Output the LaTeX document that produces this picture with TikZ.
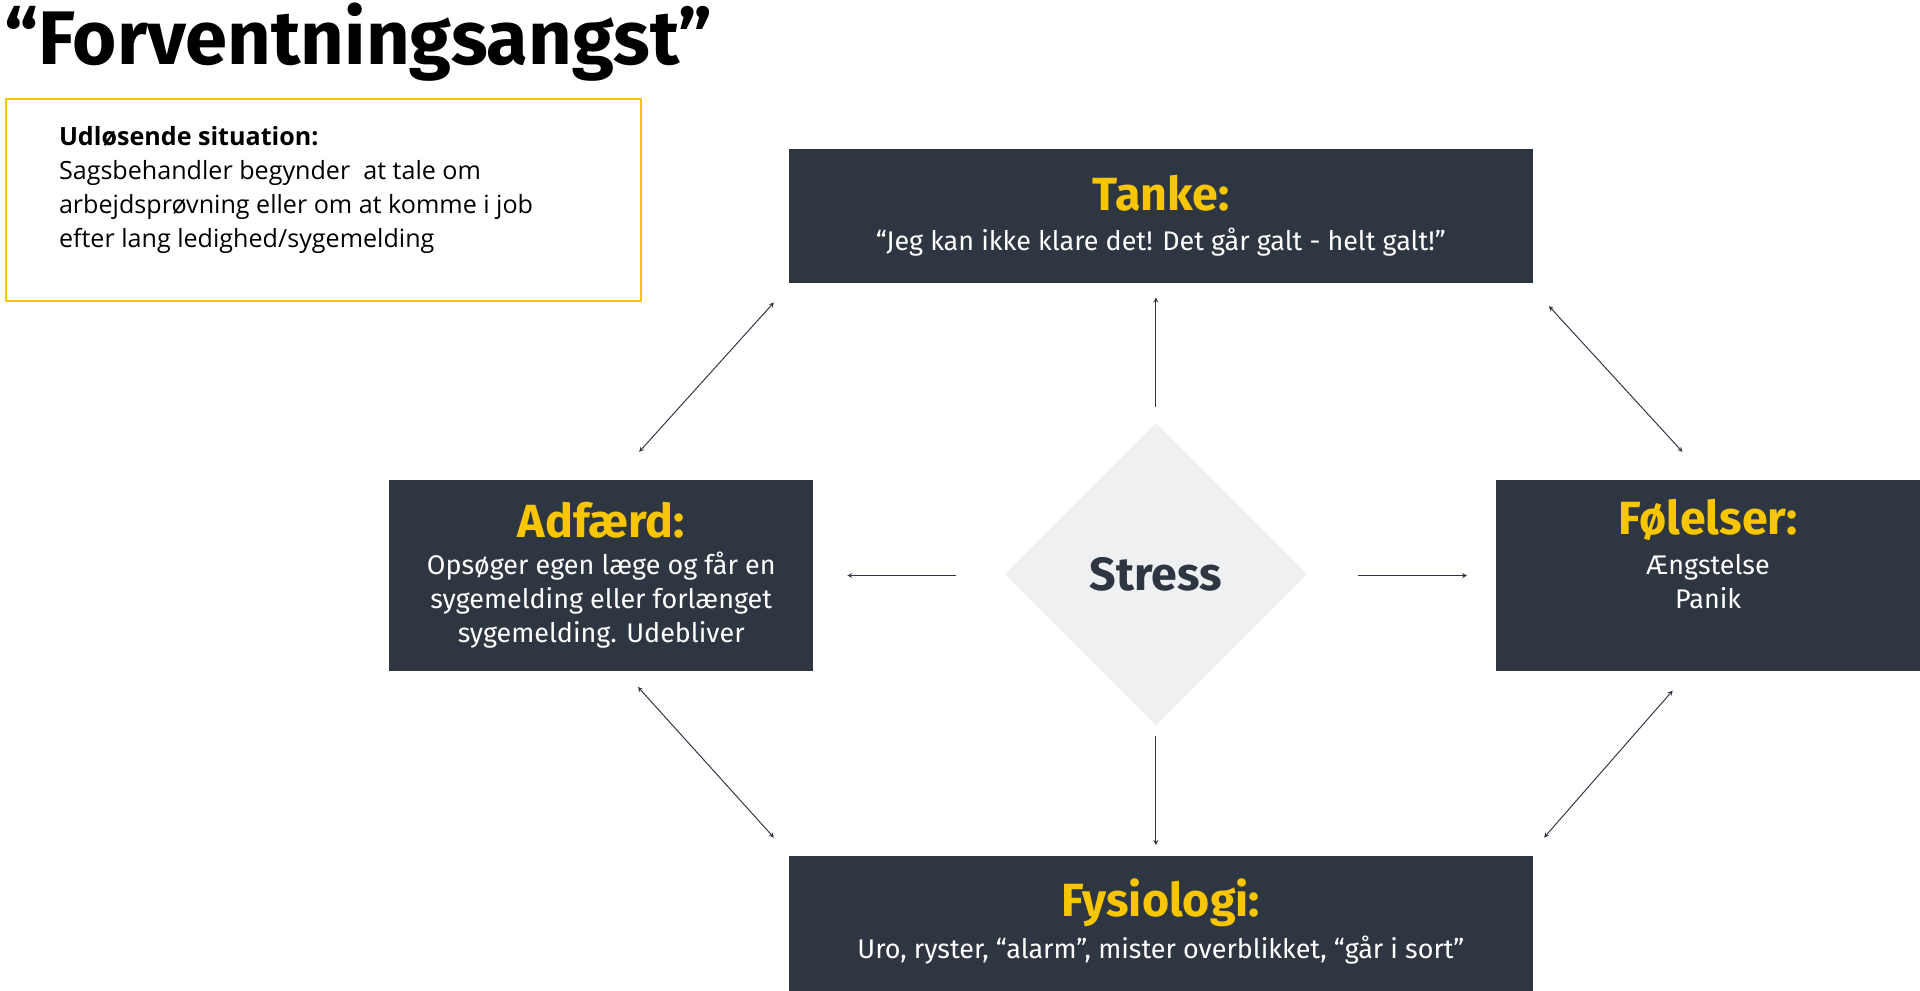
\documentclass[tikz,border=0pt]{standalone}
\usepackage{fontspec}
\setmainfont{Fira Sans}
\newfontfamily\bodyfont{Open Sans}
\usetikzlibrary{shapes.geometric}
\definecolor{boxdark}{HTML}{2E3642}
\definecolor{headyellow}{HTML}{F7C600}
\definecolor{stressgray}{HTML}{EFF0F2}
\begin{document}
\begin{tikzpicture}[x=1pt,y=-1pt, >=stealth, line join=bevel]
  \tikzstyle{head}=[text=headyellow,font=\fontsize{38}{40}\selectfont\bfseries]
  \tikzstyle{body}=[text=white,font=\fontsize{22}{28}\selectfont,align=center]
  \tikzstyle{link}=[<->,thick,draw=boxdark]
  \tikzstyle{outarrow}=[->,thick,draw=boxdark]
  \useasboundingbox (0,0) rectangle (1568,809);

  \node[anchor=base west,font=\fontsize{62}{64}\selectfont\bfseries] (title) at (0,53) {“Forventningsangst”};
  \node[draw=headyellow,line width=1.5pt,minimum width=519pt,minimum height=165pt,anchor=north west] (trigger) at (4,80) {};
  \node[anchor=north west,align=left,inner sep=0pt,font=\bodyfont\fontsize{20.5}{27.7}\selectfont] (triggertext) at (48,103)
    {\textbf{Udløsende situation:}\\Sagsbehandler begynder\ \ at tale om\\arbejdsprøvning eller om at komme i job\\efter lang ledighed/sygemelding};

  \fill[boxdark] (644,122) rectangle (1252,231);
  \fill[boxdark] (318,392) rectangle (664,548);
  \fill[boxdark] (1222,392) rectangle (1568,548);
  \fill[boxdark] (644,699) rectangle (1252,809);

  \node[head] (tankehead) at (948,158) {Tanke:};
  \node[body] (tankebody) at (948,198) {“Jeg kan ikke klare det! Det går galt - helt galt!”};
  \node[head] (adfaerdhead) at (491,425) {Adfærd:};
  \node[body] (adfaerdbody) at (491,490) {Opsøger egen læge og får en\\sygemelding eller forlænget\\sygemelding. Udebliver};
  \node[head] (folelserhead) at (1395,425) {Følelser:};
  \node[body] (folelserbody) at (1395,475) {Ængstelse\\Panik};
  \node[head] (fysiologihead) at (948,737) {Fysiologi:};
  \node[body] (fysiologibody) at (948,776) {Uro, ryster, “alarm”, mister overblikket, “går i sort”};

  \node[diamond,fill=stressgray,minimum width=247pt,minimum height=247pt,inner sep=0pt,
        text=boxdark,font=\fontsize{38}{40}\selectfont\bfseries] (stress) at (944,469) {Stress};

  \coordinate (su) at (944,332); \coordinate (tu) at (944,243);
  \coordinate (sd) at (944,601); \coordinate (fd) at (944,690);
  \coordinate (sl) at (781,470); \coordinate (al) at (692,470);
  \coordinate (sr) at (1109,470); \coordinate (fr) at (1198,470);
  \draw[outarrow] (su) -- (tu);
  \draw[outarrow] (sd) -- (fd);
  \draw[outarrow] (sl) -- (al);
  \draw[outarrow] (sr) -- (fr);

  \coordinate (at1) at (522,369); \coordinate (ta1) at (632,247);
  \coordinate (tf1) at (1265,250); \coordinate (ft1) at (1374,369);
  \coordinate (ay1) at (521,561); \coordinate (ya1) at (632,684);
  \coordinate (fy1) at (1366,564); \coordinate (yf1) at (1261,684);
  \draw[link] (at1) -- (ta1);
  \draw[link] (tf1) -- (ft1);
  \draw[link] (ay1) -- (ya1);
  \draw[link] (fy1) -- (yf1);
\end{tikzpicture}
\end{document}
